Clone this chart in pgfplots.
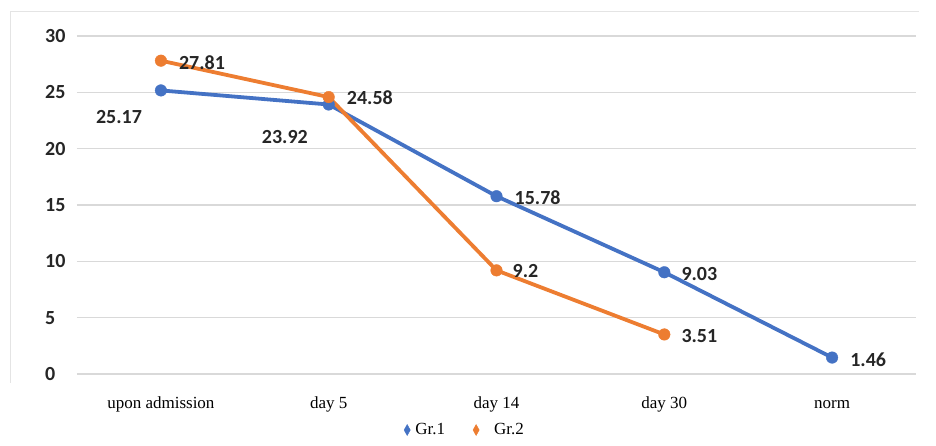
\documentclass[border=0pt]{standalone}
\usepackage{fontspec}
\setmainfont{Liberation Serif}
\newfontfamily\calib{Carlito}
\usepackage{pgfplots}
\usepackage{pgfplotstable}
\pgfplotsset{compat=1.18}
\definecolor{gone}{HTML}{4472C4}
\definecolor{gtwo}{HTML}{ED7D31}
\definecolor{gridc}{HTML}{D9D9D9}
\definecolor{txt}{HTML}{262626}
\pgfplotstableread{
x y lab dx dy
0 25.17 25.17 -65 -27
1 23.92 23.92 -67 -33
2 15.78 15.78 18 -1
3 9.03 9.03 17 -2
4 1.46 1.46 18 -2.5
}\gonetab
\pgfplotstableread{
x y lab dx dy
0 27.81 27.81 18 -1.5
1 24.58 24.58 18 -1
2 9.2 9.2 16 -1
3 3.51 3.51 17 -1.5
}\gtwotab
\pgfplotsset{lbls/.style={
  point meta=explicit symbolic,
  nodes near coords,
  visualization depends on={\thisrow{dx} \as \dx},
  visualization depends on={\thisrow{dy} \as \dy},
  every node near coord/.append style={anchor=west, inner sep=0pt, xshift=\dx, yshift=\dy, font=\calib\bfseries\fontsize{20}{22}\selectfont, text=txt},
}}
\begin{document}
\begin{tikzpicture}[x=1pt,y=1pt]
\path[use as bounding box] (-77,-71) rectangle (859,374);
\draw[gridc!70, line width=1pt] (-66,-9) -- (-66,362) -- (842,362);
\begin{axis}[
  at={(0,0)}, anchor=south west,
  scale only axis, width=839pt, height=338pt,
  xmin=-0.5, xmax=4.5, ymin=0, ymax=30,
  clip=false,
  axis line style={draw=none},
  major tick length=0pt,
  ymajorgrids, grid style={gridc, line width=1.5pt},
  xtick={0,1,2,3,4},
  xticklabels={upon admission, day 5, day 14, day 30, norm},
  ytick={0,5,10,15,20,25,30},
  /pgf/number format/assume math mode=true,
  xticklabel style={font=\fontsize{17}{20}\selectfont, anchor=base, yshift=-34pt, text=black},
  yticklabel style={font=\calib\bfseries\fontsize{20}{22}\selectfont, anchor=west, inner sep=0pt, xshift=-32pt, text=txt},
  legend style={at={(axis description cs:0.4625,-0.1657)}, anchor=center, draw=none, fill=none,
    font=\fontsize{17}{20}\selectfont,
    /tikz/every odd column/.append style={column sep=3pt},
    /tikz/every even column/.append style={column sep=26pt}},
  legend columns=2,
  legend image code/.code={\draw[#1, line width=0.4pt, mark=diamond*, mark size=5.5pt, mark options={solid, xscale=0.75}] plot coordinates {(0pt,0pt)};},
]
\addplot[gone, line width=3.8pt, mark=*, mark size=5.8pt, mark options={solid, fill=gone, line width=0.4pt}, lbls] table[x=x, y=y, meta=lab]{\gonetab};
\addlegendentry{Gr.1}
\addplot[gtwo, line width=3.8pt, mark=*, mark size=5.8pt, mark options={solid, fill=gtwo, line width=0.4pt}, lbls] table[x=x, y=y, meta=lab]{\gtwotab};
\addlegendentry{\hspace{10pt}Gr.2}
\end{axis}
\end{tikzpicture}
\end{document}
